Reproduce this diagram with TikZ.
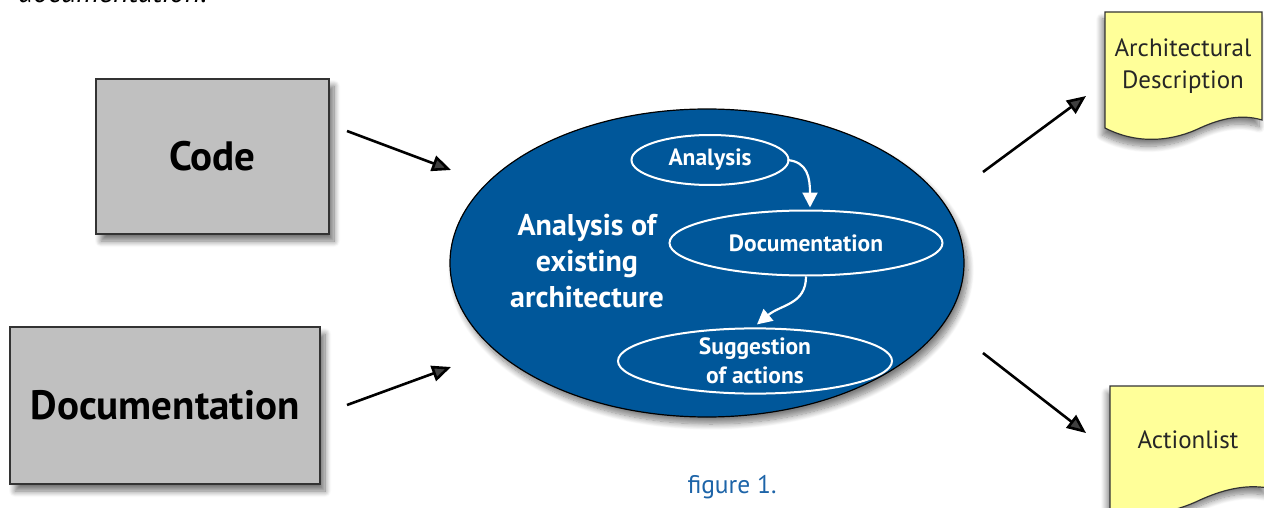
\documentclass[tikz,border=0pt]{standalone}
\usepackage{fontspec}
\setmainfont{PT Sans}
\usetikzlibrary{arrows.meta,shadows.blur,shapes.geometric}
\definecolor{boxgray}{HTML}{C0C0C0}
\definecolor{mainblue}{HTML}{00579A}
\definecolor{docyellow}{HTML}{FFFF99}
\definecolor{figblue}{HTML}{1D64A8}
\tikzset{
  srcbox/.style={draw=black!80, line width=1.2pt, fill=boxgray, font=\bfseries\fontsize{41}{44}\selectfont,
    blur shadow={shadow xshift=5pt, shadow yshift=-7pt, shadow blur radius=6pt, shadow blur steps=10, shadow opacity=55}},
  bigarrow/.style={line width=2.6pt, -{Triangle[length=19pt,width=16pt]}},
  whitearrow/.style={draw=white, line width=2.2pt, -{Triangle[length=15pt,width=15pt]}},
  stepell/.style={ellipse, draw=white, line width=2pt, text=white, font=\bfseries\fontsize{23.5}{29}\selectfont, align=center, inner sep=0pt},
  doclabel/.style={font=\fontsize{25}{32}\selectfont, align=center, text=black!85},
  docshape/.style={draw=black!80, line width=1.2pt, fill=docyellow,
    blur shadow={shadow xshift=-3pt, shadow yshift=-7pt, shadow blur radius=6pt, shadow blur steps=10, shadow opacity=50}}
}
\begin{document}
\begin{tikzpicture}[x=1pt,y=-1pt]
\useasboundingbox (0,0) rectangle (1264,508);
\clip (0,0) rectangle (1264,508);

% cut-off text at the top
\node[anchor=base west, inner sep=0pt, font=\itshape\fontsize{30}{32}\selectfont] (toptext) at (18,2.5) {documentation.};

% source boxes
\node[srcbox, minimum width=233pt, minimum height=155pt] (code) at (212.5,156.5) {Code};
\node[srcbox, minimum width=310pt, minimum height=157pt] (docu) at (165,405.5) {Documentation};

% main ellipse
\node[ellipse, draw=black, line width=1.2pt, fill=mainblue, minimum width=514pt, minimum height=308pt,
  blur shadow={shadow xshift=4pt, shadow yshift=-7pt, shadow blur radius=6pt, shadow blur steps=10, shadow opacity=50}] (main) at (707,263) {};
\node[text=white, font=\bfseries\fontsize{30}{36}\selectfont, align=center] (maintxt) at (587,261) {Analysis of\\existing\\architecture};

% inner steps
\node[stepell, minimum width=157pt, minimum height=50pt] (ana) at (710,160) {Analysis};
\node[stepell, minimum width=273pt, minimum height=65pt] (doc) at (806,243) {Documentation};
\node[stepell, minimum width=274pt, minimum height=65pt] (sug) at (755,361) {Suggestion\\of actions};

\draw[whitearrow] ([xshift=-2pt]ana.east) .. controls +(20,2) and +(0,-30) .. ([xshift=4pt,yshift=2pt]doc.north);
\draw[whitearrow] (doc.south) .. controls +(0,28) and +(24,-20) .. ([xshift=2pt,yshift=3pt]sug.north);

% output documents
\path[docshape] (1105,12) -- (1262,12) -- (1262,120)
  .. controls (1242,114) and (1222,118) .. (1200,128)
  .. controls (1175,140) and (1140,146) .. (1105,128) -- cycle;
\node[doclabel] (arch) at (1183,66) {Architectural\\Description};

\path[docshape] (1110,386) -- (1268,386) -- (1268,488)
  .. controls (1245,484) and (1222,490) .. (1200,500)
  .. controls (1175,512) and (1140,520) .. (1110,512) -- cycle;
\node[doclabel] (act) at (1188,440) {Actionlist};

% connectors
\coordinate (c1s) at (347,131); \coordinate (c1e) at (451,170);
\coordinate (c2s) at (347,405); \coordinate (c2e) at (451,367);
\coordinate (c3s) at (983,172); \coordinate (c3e) at (1086,96);
\coordinate (c4s) at (983,353); \coordinate (c4e) at (1086,433);
\draw[bigarrow] (c1s) -- (c1e);
\draw[bigarrow] (c2s) -- (c2e);
\draw[bigarrow] (c3s) -- (c3e);
\draw[bigarrow] (c4s) -- (c4e);

% caption
\node[text=figblue, font=\fontsize{25.5}{28}\selectfont] (cap) at (732,487) {figure 1.};
\end{tikzpicture}
\end{document}
